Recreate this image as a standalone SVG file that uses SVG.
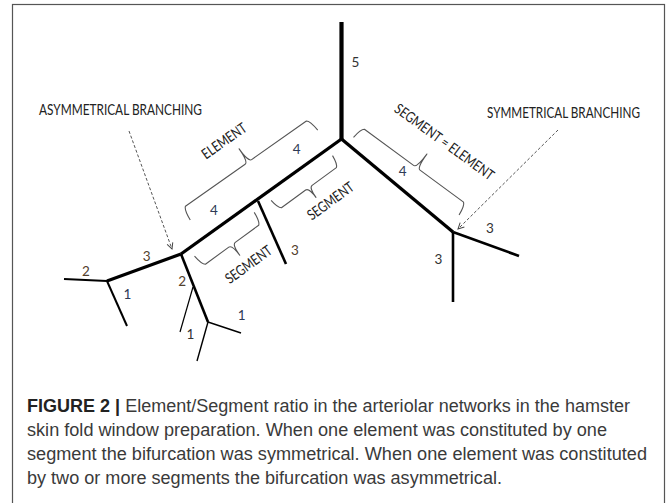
<svg xmlns="http://www.w3.org/2000/svg" width="667" height="503" viewBox="0 0 667 503">
  <defs>
    <style>
      .v{fill:none;stroke:#000;stroke-linecap:butt;stroke-linejoin:round}
      .br{fill:none;stroke:#555;stroke-width:1.1;stroke-linejoin:round}
      .dash{fill:none;stroke:#555;stroke-width:1;stroke-dasharray:3,2}
      .lbl{font-family:Lato,"Liberation Sans",sans-serif;font-size:14.5px;fill:#222}
      .num{font-family:Lato,"Liberation Sans",sans-serif;font-size:13.5px;text-anchor:middle}
      .n1{fill:#2e3a55}
      .n2{fill:#52402c}
      .n0{fill:#333}
      .cap{font-family:"Liberation Sans",Arial,sans-serif;font-size:17.5px;fill:#3a3a3a}
    </style>
    <marker id="open" viewBox="0 0 8 8" refX="7" refY="4" markerWidth="8" markerHeight="8" markerUnits="userSpaceOnUse" orient="auto">
      <path d="M1,1 L7,4 L1,7" fill="none" stroke="#444" stroke-width="1"/>
    </marker>
  </defs>

  <rect x="0" y="0" width="667" height="503" fill="#fff"/>
  <rect id="frame" x="12.5" y="4.5" width="652" height="520" fill="#fff" stroke="#555" stroke-width="1.2"/>

  <g id="vessels">
    <line class="v" x1="341.5" y1="22" x2="341.5" y2="140" stroke-width="4.2"/>
    <line class="v" x1="341.5" y1="139" x2="181" y2="254" stroke-width="3.3"/>
    <line class="v" x1="341.5" y1="139" x2="453" y2="232" stroke-width="3.3"/>
    <line class="v" x1="453" y1="232" x2="519" y2="256" stroke-width="2.6"/>
    <line class="v" x1="453" y1="232" x2="453" y2="302" stroke-width="2.6"/>
    <line class="v" x1="181" y1="254" x2="107" y2="281" stroke-width="3.2"/>
    <line class="v" x1="107" y1="281" x2="64" y2="279" stroke-width="2"/>
    <line class="v" x1="107" y1="281" x2="127" y2="326" stroke-width="2"/>
    <line class="v" x1="258" y1="201" x2="286" y2="264" stroke-width="2.6"/>
    <line class="v" x1="181" y1="254" x2="208" y2="322" stroke-width="2.6"/>
    <line class="v" x1="208" y1="322" x2="241" y2="333" stroke-width="1.4"/>
    <line class="v" x1="208" y1="322" x2="197" y2="361" stroke-width="1.4"/>
    <line class="v" x1="193" y1="287" x2="180" y2="332" stroke-width="1.2"/>
  </g>

  <g id="braces">
    <path id="brace-element" class="br" transform="translate(183,208) rotate(-35.2)" d="M-1,14 Q0,2 3,0 L76,0 Q80,0 80,-16 Q80,0 84,0 L151,0 Q154,2 155,14"/>
    <path id="brace-segment-lower" class="br" transform="translate(203,266) rotate(-36.2)" d="M-1,-13 Q0,-2 3,0 L32,0 Q36,0 36,13 Q36,0 40,0 L69,0 Q72,-2 73,-13"/>
    <path id="brace-segment-upper" class="br" transform="translate(279,209.5) rotate(-36.1)" d="M-1,-12 Q0,-2 3,0 L33,0 Q37,0 37,12 Q37,0 41,0 L71,0 Q74,-2 75,-12"/>
    <path id="brace-seg-el" class="br" transform="translate(362,127.5) rotate(36.3)" d="M-1,13 Q0,2 3,0 L64,0 Q68,0 68,-17 Q68,0 72,0 L126,0 Q129,2 130,13"/>
  </g>

  <g id="connectors">
    <line class="dash" x1="129" y1="131" x2="172" y2="249" marker-end="url(#open)"/>
    <line class="dash" x1="558" y1="130" x2="458" y2="229" marker-end="url(#open)"/>
  </g>

  <g id="labels">
    <text class="lbl" x="39" y="115" textLength="163" lengthAdjust="spacingAndGlyphs">ASYMMETRICAL BRANCHING</text>
    <text class="lbl" x="487" y="117.5" textLength="153" lengthAdjust="spacingAndGlyphs">SYMMETRICAL BRANCHING</text>
    <text class="lbl" text-anchor="middle" transform="translate(227,145) rotate(-35)" textLength="51" lengthAdjust="spacingAndGlyphs">ELEMENT</text>
    <text class="lbl" text-anchor="middle" transform="translate(251.5,268.5) rotate(-36)" textLength="54" lengthAdjust="spacingAndGlyphs">SEGMENT</text>
    <text class="lbl" text-anchor="middle" transform="translate(333.5,205) rotate(-36)" textLength="54" lengthAdjust="spacingAndGlyphs">SEGMENT</text>
    <text class="lbl" text-anchor="middle" transform="translate(441.5,146) rotate(36)" textLength="119" lengthAdjust="spacingAndGlyphs">SEGMENT = ELEMENT</text>
  </g>

  <g id="numbers">
    <text class="num n0" x="355.3" y="67">5</text>
    <text class="num n1" x="296.7" y="154">4</text>
    <text class="num n1" x="213.8" y="215">4</text>
    <text class="num n1" x="402.7" y="176">4</text>
    <text class="num n2" x="295" y="255">3</text>
    <text class="num n2" x="146.7" y="261">3</text>
    <text class="num n0" x="490" y="233">3</text>
    <text class="num n0" x="438.3" y="264">3</text>
    <text class="num n2" x="182.2" y="286">2</text>
    <text class="num n2" x="86" y="276">2</text>
    <text class="num n1" x="127.5" y="299">1</text>
    <text class="num n0" x="190.3" y="338.5">1</text>
    <text class="num n1" x="241.7" y="320">1</text>
  </g>

  <g id="caption">
    <text class="cap" x="27" y="412" textLength="603" lengthAdjust="spacingAndGlyphs"><tspan font-weight="bold" fill="#222">FIGURE 2 |</tspan> Element/Segment ratio in the arteriolar networks in the hamster</text>
    <text class="cap" x="27" y="436" textLength="580" lengthAdjust="spacingAndGlyphs">skin fold window preparation. When one element was constituted by one</text>
    <text class="cap" x="27" y="460" textLength="620" lengthAdjust="spacingAndGlyphs">segment the bifurcation was symmetrical. When one element was constituted</text>
    <text class="cap" x="27" y="484" textLength="475" lengthAdjust="spacingAndGlyphs">by two or more segments the bifurcation was asymmetrical.</text>
  </g>
</svg>
